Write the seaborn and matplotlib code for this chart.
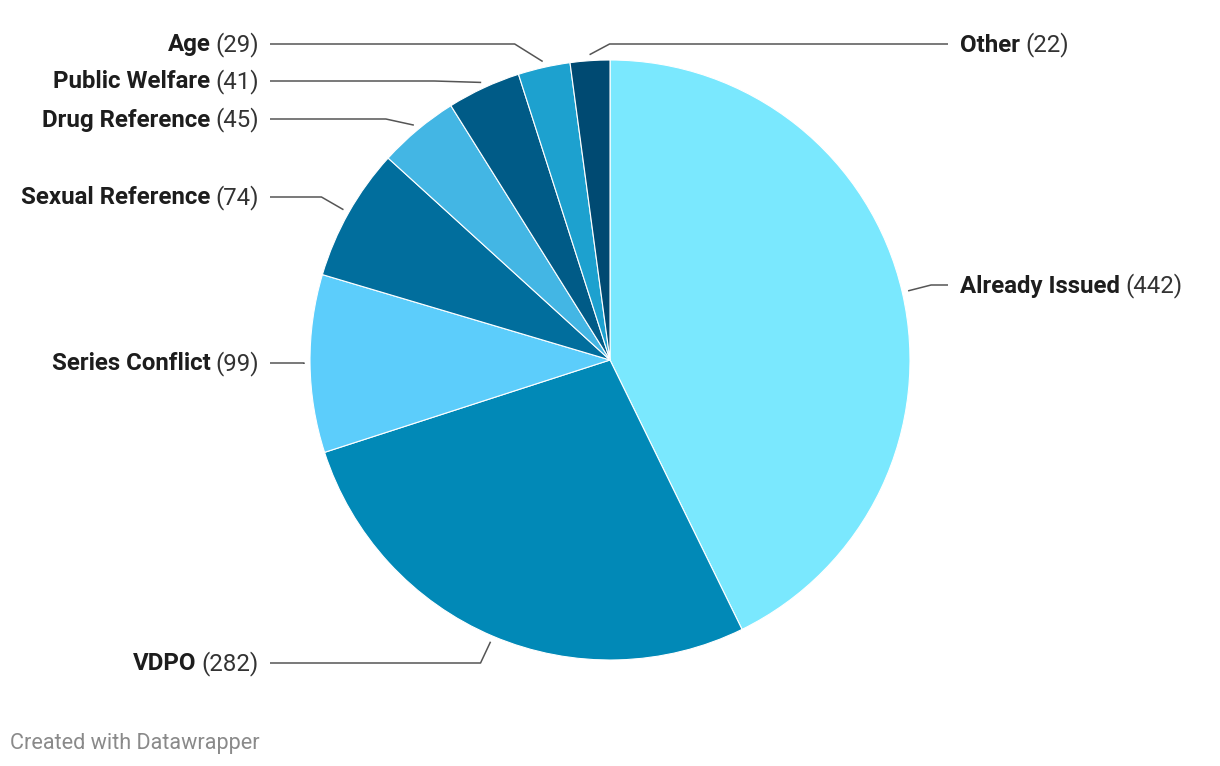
import matplotlib
matplotlib.use("Agg")
import matplotlib.pyplot as plt
import seaborn as sns
import numpy as np

# Data
categories = ["Already Issued", "VDPO", "Series Conflict", "Sexual Reference",
              "Drug Reference", "Public Welfare", "Age", "Other"]
counts = [442, 282, 99, 74, 45, 41, 29, 22]
slice_colors = ["#7ae8fe", "#0189b7", "#5ccdfb", "#016e9d",
                "#43b6e4", "#005b87", "#1da1cf", "#004a72"]

# Label layout: pixel row of each label, which side, elbow offset of leader line
label_rows = [285, 663, 363, 197, 119, 81, 44, 44]
label_side = ["right", "left", "left", "left", "left", "left", "left", "right"]
elbow_dx = [23, 10, 0, 22, 28, 47, 28, 20]

W, H = 1220, 766
CX, CY, R = 610, 360, 300

sns.set_theme(style="white")
plt.rcParams["font.family"] = ["Roboto", "DejaVu Sans"]

fig = plt.figure(figsize=(W / 100, H / 100), dpi=100)
ax = fig.add_axes([0, 0, 1, 1])
wedges, _ = ax.pie(counts, colors=sns.color_palette(slice_colors), startangle=90,
                   counterclock=False, center=(CX, H - CY), radius=R,
                   wedgeprops=dict(edgecolor="white", linewidth=0.8))
ax.set_xlim(0, W)
ax.set_ylim(0, H)
ax.set_aspect("equal")
ax.axis("off")

fig.canvas.draw()
renderer = fig.canvas.get_renderer()
fs = 17.3
space = 5

for w, name, n, row, side, dx in zip(wedges, categories, counts, label_rows, label_side, elbow_dx):
    # leader line from just outside the slice to the label
    mid = np.deg2rad((w.theta1 + w.theta2) / 2)
    ex = CX + (R + 6) * np.cos(mid)
    ey = (H - CY) + (R + 6) * np.sin(mid)
    ly = H - row
    ty = ly - 1
    if side == "left":
        ax.plot([270, ex - dx, ex], [ly, ly, ey], color="#555555", lw=1.1, solid_capstyle="butt")
        tv = ax.text(259, ty, f"({n})", ha="right", va="center", fontsize=fs, color="#333333")
        vw = tv.get_window_extent(renderer).width
        ax.text(259 - vw - space, ty, name, ha="right", va="center", fontsize=fs,
                fontweight="bold", color="#1d1d1d")
    else:
        ax.plot([948, ex + dx, ex], [ly, ly, ey], color="#555555", lw=1.1, solid_capstyle="butt")
        tn = ax.text(960, ty, name, ha="left", va="center", fontsize=fs,
                     fontweight="bold", color="#1d1d1d")
        nw = tn.get_window_extent(renderer).width
        ax.text(960 + nw + space, ty, f"({n})", ha="left", va="center", fontsize=fs, color="#333333")

ax.text(10, H - 743, "Created with Datawrapper", ha="left", va="center", fontsize=15.6, color="#8a8a8a")

fig.savefig("out.png", dpi=100)
